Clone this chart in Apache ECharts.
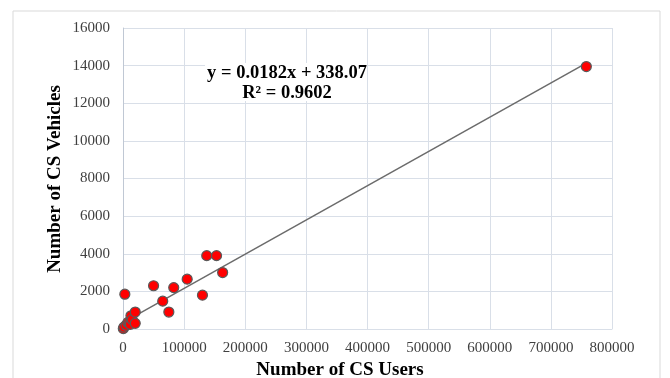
<!DOCTYPE html>
<html><head><meta charset="utf-8">
<script src="https://cdn.jsdelivr.net/npm/echarts@6/dist/echarts.min.js"></script>
<style>html,body{margin:0;padding:0;background:#fff}#c{width:670px;height:378px}</style>
</head><body><div id="c"></div>
<script>
var usersX = [500, 1500, 3000, 5000, 8000, 10000, 12000, 13000, 15000, 20000, 20000, 50000, 65000, 75000, 83000, 105000, 130000, 137000, 153000, 163000, 758000];
var vehiclesY = [20, 100, 1850, 200, 350, 300, 250, 700, 500, 300, 900, 2300, 1480, 900, 2200, 2650, 1800, 3900, 3900, 3000, 13950];
var trendCoef = [0.0182, 338.07]; // slope, intercept
var trendRange = [0, 758000];
var eqLabels = ['y = 0.0182x + 338.07', 'R² = 0.9602'];
var xTitle = 'Number of CS Users';
var yTitle = 'Number of CS Vehicles';

var pts = usersX.map(function(x, i){ return [x, vehiclesY[i]]; });
var trend = trendRange.map(function(x){ return [x, trendCoef[0]*x + trendCoef[1]]; });

var chart = echarts.init(document.getElementById('c'));
var serif = '"Liberation Serif", "Times New Roman", serif';
chart.setOption({
  animation: false,
  backgroundColor: '#fff',
  grid: {left: 123, right: 58, top: 28, bottom: 49},
  graphic: [
    {type: 'rect', shape: {x: 13, y: 11, width: 647, height: 390}, style: {fill: 'none', stroke: '#d9d9d9', lineWidth: 1}, z: -1},
    {type: 'rect', shape: {x: 205, y: 63, width: 162, height: 38}, style: {fill: '#fff'}, z: 10},
    {type: 'text', x: 287, y: 73, z: 11, style: {text: eqLabels[0], font: 'bold 18.5px ' + serif, fill: '#000', align: 'center', verticalAlign: 'middle'}},
    {type: 'text', x: 287, y: 93, z: 11, style: {text: eqLabels[1], font: 'bold 18.5px ' + serif, fill: '#000', align: 'center', verticalAlign: 'middle'}},
    {type: 'text', x: 340, y: 370, style: {text: xTitle, font: 'bold 19px ' + serif, fill: '#000', align: 'center', verticalAlign: 'middle'}},
    {type: 'text', x: 55, y: 179, rotation: Math.PI/2, style: {text: yTitle, font: 'bold 19px ' + serif, fill: '#000', align: 'center', verticalAlign: 'middle'}}
  ],
  xAxis: {
    type: 'value', min: 0, max: 800000, interval: 100000,
    axisLine: {show: true, lineStyle: {color: '#d9dfe8'}},
    axisTick: {show: false},
    axisLabel: {fontFamily: serif, fontSize: 15, color: '#404040', margin: 12, formatter: function(v){ return String(v); }},
    splitLine: {show: true, lineStyle: {color: '#d9dfe8', width: 1}}
  },
  yAxis: {
    type: 'value', min: 0, max: 16000, interval: 2000,
    axisLine: {show: true, lineStyle: {color: '#c0c8d4'}},
    axisTick: {show: false},
    axisLabel: {fontFamily: serif, fontSize: 15, color: '#404040', margin: 13, formatter: function(v){ return String(v); }},
    splitLine: {show: true, lineStyle: {color: '#d9dfe8', width: 1}}
  },
  series: [
    {type: 'line', data: trend, symbol: 'none', lineStyle: {color: '#6b6b6b', width: 1.5}, z: 2},
    {type: 'scatter', data: pts, symbolSize: 10, itemStyle: {color: '#ff0000', borderColor: '#5a5a5a', borderWidth: 1.2, opacity: 1}, z: 3}
  ]
});
</script></body></html>
